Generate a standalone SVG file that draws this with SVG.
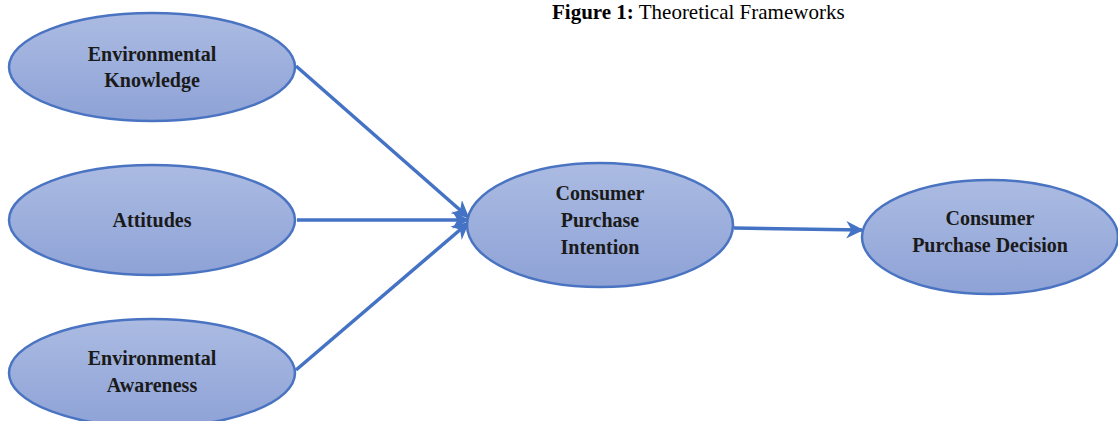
<svg xmlns="http://www.w3.org/2000/svg" width="1118" height="421" viewBox="0 0 1118 421">
<defs>
<linearGradient id="g" x1="0" y1="0" x2="0" y2="1">
<stop offset="0" stop-color="#abbbe2"/>
<stop offset="1" stop-color="#8ea2d6"/>
</linearGradient>
<marker id="arr" viewBox="0 0 10 10" refX="9" refY="5" markerWidth="5" markerHeight="5" orient="auto" markerUnits="strokeWidth">
<path d="M0,0 L10,5 L0,10 L3,5 Z" fill="#4472c4"/>
</marker>
<style>
.n{fill:url(#g);stroke:#4a74c2;stroke-width:2.5}
.t{font-family:"Liberation Serif","Times New Roman",serif;font-weight:bold;font-size:20px;fill:#1a1a1a;text-anchor:middle}
.c{stroke:#4472c4;stroke-width:3.5;fill:none;marker-end:url(#arr)}
.title{font-family:"Liberation Serif","Times New Roman",serif;font-size:21px;fill:#000}
</style>
</defs>
<rect width="1118" height="421" fill="#fff"/>
<text class="title" x="552" y="19"><tspan font-weight="bold">Figure 1:</tspan> Theoretical Frameworks</text>
<g id="connectors">
<line class="c" x1="296" y1="66" x2="468" y2="217"/>
<line class="c" x1="297" y1="220" x2="468" y2="220"/>
<line class="c" x1="296" y1="370" x2="468" y2="223"/>
<line class="c" x1="734" y1="228" x2="862" y2="230"/>
</g>
<g id="env-knowledge">
<ellipse class="n" cx="152" cy="67" rx="143" ry="54"/>
<text class="t" x="152" y="61">Environmental</text>
<text class="t" x="152" y="87">Knowledge</text>
</g>
<g id="attitudes">
<ellipse class="n" cx="152" cy="220" rx="143" ry="55"/>
<text class="t" x="152" y="227">Attitudes</text>
</g>
<g id="env-awareness">
<ellipse class="n" cx="152" cy="373" rx="143" ry="54"/>
<text class="t" x="152" y="365">Environmental</text>
<text class="t" x="152" y="392">Awareness</text>
</g>
<g id="purchase-intention">
<ellipse class="n" cx="600" cy="225" rx="133" ry="62"/>
<text class="t" x="600" y="200">Consumer</text>
<text class="t" x="600" y="227">Purchase</text>
<text class="t" x="600" y="254">Intention</text>
</g>
<g id="purchase-decision">
<ellipse class="n" cx="990" cy="237" rx="128" ry="57"/>
<text class="t" x="990" y="225">Consumer</text>
<text class="t" x="990" y="252">Purchase Decision</text>
</g>
</svg>
